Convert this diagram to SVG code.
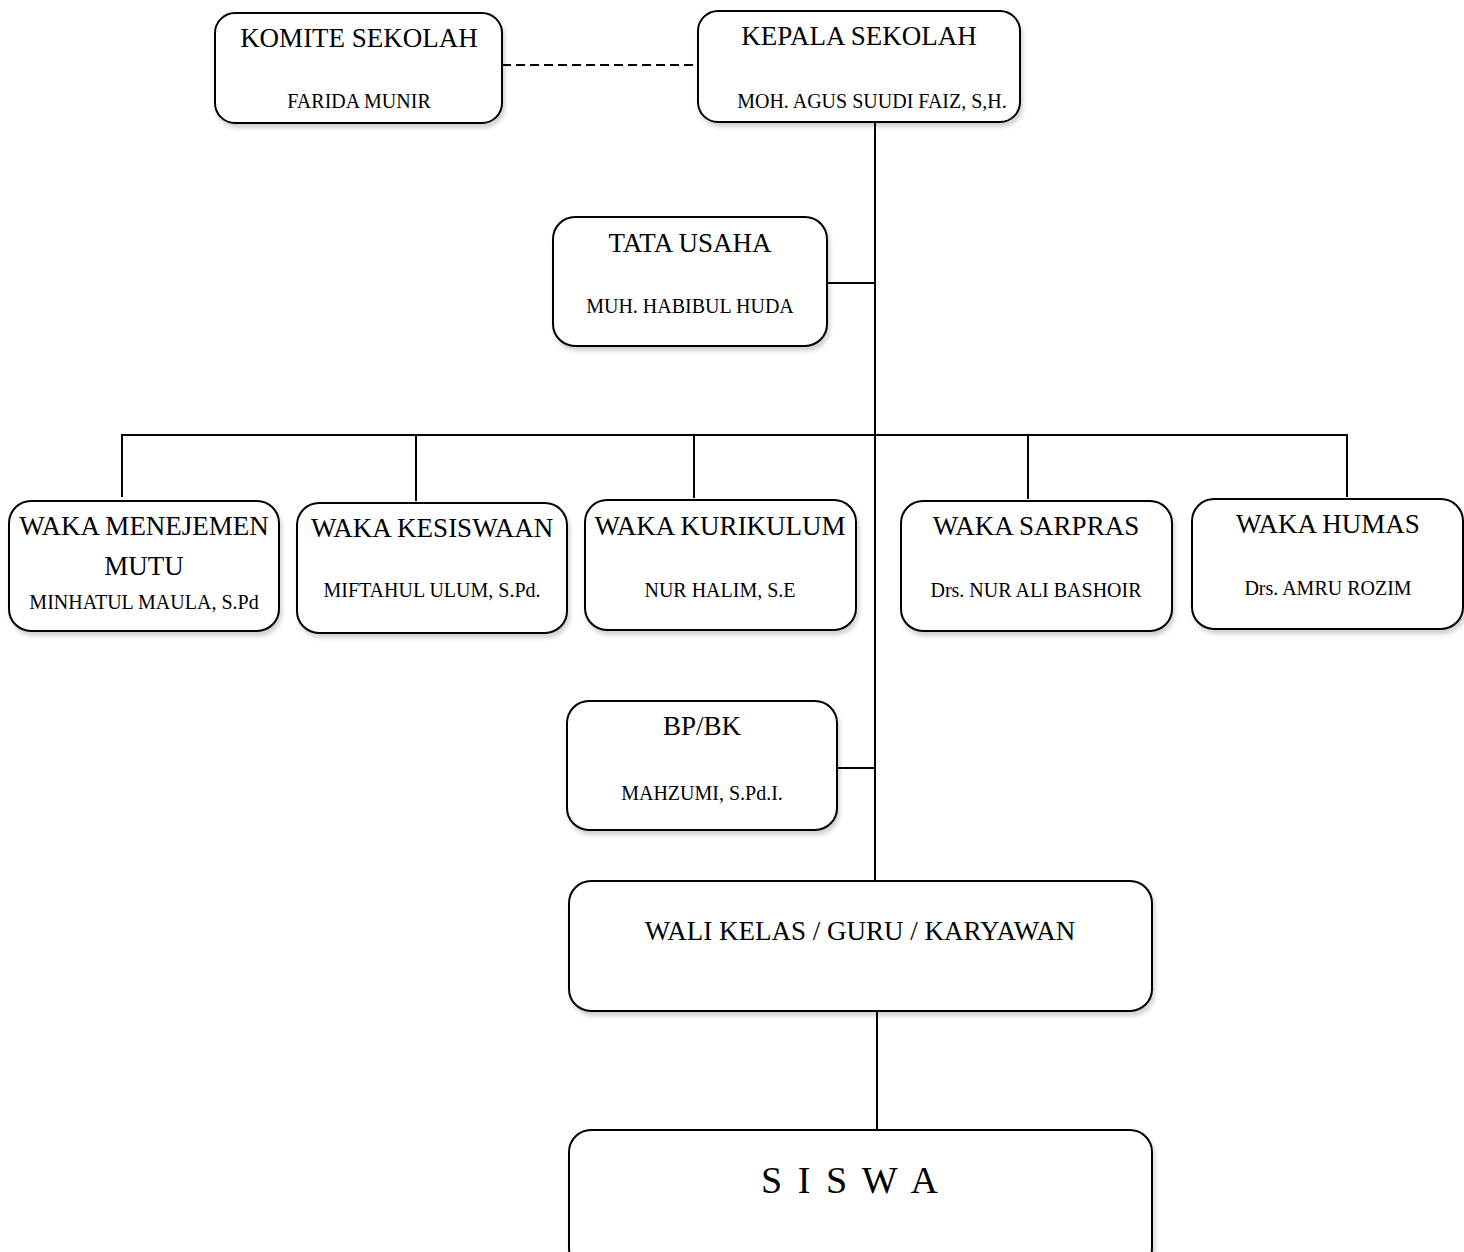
<svg xmlns="http://www.w3.org/2000/svg" width="1464" height="1252" viewBox="0 0 1464 1252">
<defs>
<filter id="sh" x="-5%" y="-5%" width="115%" height="125%">
<feDropShadow dx="2" dy="4" stdDeviation="2" flood-color="#000" flood-opacity="0.18"/>
</filter>
<style>
.box{fill:#fff;stroke:#000;stroke-width:2;filter:url(#sh)}
.ln{stroke:#000;stroke-width:2;fill:none}
.t{font-family:"Liberation Serif","DejaVu Serif",serif;font-size:27px;text-anchor:middle;fill:#000}
.n{font-family:"Liberation Serif","DejaVu Serif",serif;font-size:20px;text-anchor:middle;fill:#000}
</style>
</defs>
<rect width="1464" height="1252" fill="#fff"/>
<g id="connectors">
<line class="ln" x1="502" y1="65" x2="698" y2="65" stroke-dasharray="9,5"/>
<line class="ln" x1="875" y1="122" x2="875" y2="881"/>
<line class="ln" x1="827" y1="283" x2="875" y2="283"/>
<line class="ln" x1="121" y1="435" x2="1348" y2="435"/>
<line class="ln" x1="122" y1="435" x2="122" y2="497"/>
<line class="ln" x1="416" y1="435" x2="416" y2="501"/>
<line class="ln" x1="694" y1="435" x2="694" y2="498"/>
<line class="ln" x1="1028" y1="435" x2="1028" y2="499"/>
<line class="ln" x1="1347" y1="435" x2="1347" y2="497"/>
<line class="ln" x1="837" y1="768" x2="875" y2="768"/>
<line class="ln" x1="877" y1="1011" x2="877" y2="1130"/>
</g>
<g id="komite">
<rect class="box" x="215" y="13" width="287" height="110" rx="20"/>
<text class="t" x="359" y="47">KOMITE SEKOLAH</text>
<text class="n" x="359" y="108">FARIDA MUNIR</text>
</g>
<g id="kepala">
<rect class="box" x="698" y="11" width="322" height="111" rx="20"/>
<text class="t" x="859" y="45">KEPALA SEKOLAH</text>
<text class="n" x="872" y="108">MOH. AGUS SUUDI FAIZ, S,H.</text>
</g>
<g id="tatausaha">
<rect class="box" x="553" y="217" width="274" height="129" rx="22"/>
<text class="t" x="690" y="252">TATA USAHA</text>
<text class="n" x="690" y="313">MUH. HABIBUL HUDA</text>
</g>
<g id="waka-mutu">
<rect class="box" x="9" y="501" width="270" height="130" rx="22"/>
<text class="t" x="144" y="535">WAKA MENEJEMEN</text>
<text class="t" x="144" y="575">MUTU</text>
<text class="n" x="144" y="609">MINHATUL MAULA, S.Pd</text>
</g>
<g id="waka-kesiswaan">
<rect class="box" x="297" y="503" width="270" height="130" rx="22"/>
<text class="t" x="432" y="537">WAKA KESISWAAN</text>
<text class="n" x="432" y="597">MIFTAHUL ULUM, S.Pd.</text>
</g>
<g id="waka-kurikulum">
<rect class="box" x="585" y="500" width="271" height="130" rx="22"/>
<text class="t" x="720" y="535">WAKA KURIKULUM</text>
<text class="n" x="720" y="597">NUR HALIM, S.E</text>
</g>
<g id="waka-sarpras">
<rect class="box" x="901" y="501" width="271" height="130" rx="22"/>
<text class="t" x="1036" y="535">WAKA SARPRAS</text>
<text class="n" x="1036" y="597">Drs. NUR ALI BASHOIR</text>
</g>
<g id="waka-humas">
<rect class="box" x="1192" y="499" width="271" height="130" rx="22"/>
<text class="t" x="1328" y="533">WAKA HUMAS</text>
<text class="n" x="1328" y="595">Drs. AMRU ROZIM</text>
</g>
<g id="bpbk">
<rect class="box" x="567" y="701" width="270" height="129" rx="22"/>
<text class="t" x="702" y="735">BP/BK</text>
<text class="n" x="702" y="800">MAHZUMI, S.Pd.I.</text>
</g>
<g id="walikelas">
<rect class="box" x="569" y="881" width="583" height="130" rx="22"/>
<text class="t" x="860" y="940">WALI KELAS / GURU / KARYAWAN</text>
</g>
<g id="siswa">
<rect class="box" x="569" y="1130" width="583" height="140" rx="22"/>
<text class="t" x="851" y="1193" style="font-size:38px;letter-spacing:3px">S I S W A</text>
</g>
</svg>
